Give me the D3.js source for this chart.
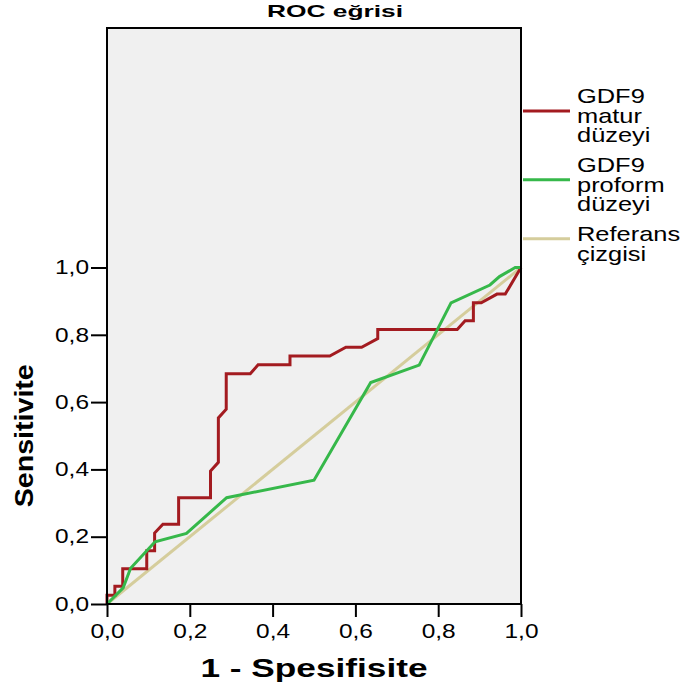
<!DOCTYPE html>
<html>
<head>
<meta charset="utf-8">
<script src="https://cdn.jsdelivr.net/npm/d3@7"></script>
<style>
  html, body { margin: 0; padding: 0; background: #ffffff; }
  svg { display: block; font-family: "Liberation Sans", Arial, sans-serif; }
</style>
</head>
<body>
<svg id="chart" width="683" height="696"></svg>
<script>
// ROC curve for GDF9 matur: 1 - specificity and sensitivity
const maturFpr = [0, 0, 0.019, 0.019, 0.038, 0.038, 0.096, 0.096, 0.115, 0.115, 0.135, 0.173, 0.173, 0.25, 0.25, 0.269, 0.269, 0.288, 0.288, 0.346, 0.365, 0.442, 0.442, 0.538, 0.577, 0.615, 0.654, 0.654, 0.846, 0.865, 0.885, 0.885, 0.904, 0.942, 0.962, 1];
const maturTpr = [0, 0.026, 0.026, 0.053, 0.053, 0.105, 0.105, 0.158, 0.158, 0.211, 0.237, 0.237, 0.316, 0.316, 0.395, 0.421, 0.553, 0.579, 0.684, 0.684, 0.711, 0.711, 0.737, 0.737, 0.763, 0.763, 0.789, 0.816, 0.816, 0.842, 0.842, 0.895, 0.895, 0.921, 0.921, 1];

// ROC curve for GDF9 proform
const proformFpr = [0, 0.039, 0.057, 0.116, 0.192, 0.289, 0.5, 0.637, 0.754, 0.831, 0.925, 0.948, 0.986, 1];
const proformTpr = [0, 0.048, 0.106, 0.185, 0.21, 0.316, 0.368, 0.658, 0.71, 0.895, 0.948, 0.973, 1, 1];

// Diagonal reference line
const referenceFpr = [0, 1];
const referenceTpr = [0, 1];

const tickValues = [0, 0.2, 0.4, 0.6, 0.8, 1.0];
const legendLabels = [["GDF9", "matur", "düzeyi"], ["GDF9", "proform", "düzeyi"], ["Referans", "çizgisi"]];
const seriesColors = ["#a31b20", "#36b84a", "#d5cd9c"];
const titleText = "ROC eğrisi";
const xLabelText = "1 - Spesifisite";
const yLabelText = "Sensitivite";

const svg = d3.select("#chart");

// plot frame bounds
const frameLeft = 107, frameRight = 521, frameTop = 28, frameBottom = 604;

const x = d3.scaleLinear().domain([0, 1]).range([frameLeft, frameRight]);
const y = d3.scaleLinear().domain([0, 1]).range([frameBottom, 267.5]);

const locale = d3.formatLocale({ decimal: ",", thousands: ".", grouping: [3], currency: ["", ""] });
const fmt = locale.format(".1f");

// widen text horizontally by factor k
function stretch(sel, k) {
  sel.each(function () {
    const w = this.getComputedTextLength();
    this.setAttribute("textLength", w * k);
    this.setAttribute("lengthAdjust", "spacingAndGlyphs");
  });
}
// widen text to a fixed run length
function stretchTo(sel, len) {
  sel.attr("textLength", len).attr("lengthAdjust", "spacingAndGlyphs");
}

// plot background
svg.append("rect")
  .attr("x", frameLeft).attr("y", frameTop)
  .attr("width", frameRight - frameLeft).attr("height", frameBottom - frameTop)
  .attr("fill", "#f0f0f0");

// curves
const line = d3.line().x(d => x(d[0])).y(d => y(d[1]));
const series = [
  { fpr: referenceFpr, tpr: referenceTpr, color: seriesColors[2] },
  { fpr: maturFpr, tpr: maturTpr, color: seriesColors[0] },
  { fpr: proformFpr, tpr: proformTpr, color: seriesColors[1] }
];
series.forEach(s => {
  const pts = s.fpr.map((v, i) => [v, s.tpr[i]]);
  svg.append("path")
    .datum(pts)
    .attr("d", line)
    .attr("fill", "none")
    .attr("stroke", s.color)
    .attr("stroke-width", 3)
    .attr("stroke-linejoin", "miter");
});

// axes
const yAxis = svg.append("g")
  .attr("transform", `translate(${frameLeft},0)`)
  .call(d3.axisLeft(y).tickValues(tickValues).tickFormat(fmt).tickSize(16).tickPadding(2));
const xAxis = svg.append("g")
  .attr("transform", `translate(0,${frameBottom})`)
  .call(d3.axisBottom(x).tickValues(tickValues).tickFormat(fmt).tickSize(13).tickPadding(7));

[xAxis, yAxis].forEach(g => {
  g.select(".domain").remove();
  g.selectAll(".tick line").attr("stroke", "#000").attr("stroke-width", 2);
  g.selectAll(".tick text")
    .attr("fill", "#000")
    .style("font-family", "'Liberation Sans', Arial, sans-serif")
    .style("font-size", "19.5px");
});
stretchTo(xAxis.selectAll(".tick text"), 34);
stretchTo(yAxis.selectAll(".tick text"), 34);

// frame on top of the curves
svg.append("rect")
  .attr("x", frameLeft).attr("y", frameTop)
  .attr("width", frameRight - frameLeft).attr("height", frameBottom - frameTop)
  .attr("fill", "none").attr("stroke", "#000").attr("stroke-width", 2);

// title
const title = svg.append("text")
  .attr("x", 335).attr("y", 17)
  .attr("text-anchor", "middle")
  .style("font-weight", "bold").style("font-size", "17px")
  .text(titleText);
stretchTo(title, 136);

// axis titles
const xTitle = svg.append("text")
  .attr("x", x(0.5)).attr("y", 677)
  .attr("text-anchor", "middle")
  .style("font-weight", "bold").style("font-size", "25.5px")
  .text(xLabelText);
stretchTo(xTitle, 227);

const yTitle = svg.append("text")
  .attr("transform", `translate(33,${y(0.5)}) rotate(-90)`)
  .attr("text-anchor", "middle")
  .style("font-weight", "bold").style("font-size", "26px")
  .text(yLabelText);
stretchTo(yTitle, 143);

// legend
const legend = svg.append("g");
const lineStep = 19.7, itemGap = 9.8, capHeight = 15;
let baseline = 103;
legendLabels.forEach((lines, i) => {
  const first = baseline;
  lines.forEach((t, j) => {
    const tx = legend.append("text")
      .attr("x", 577).attr("y", first + j * lineStep)
      .style("font-size", "21px")
      .text(t);
    stretch(tx, 1.21);
  });
  const last = first + (lines.length - 1) * lineStep;
  const mid = (first - capHeight + last) / 2 - 4.3;
  legend.append("line")
    .attr("x1", 523).attr("x2", 570)
    .attr("y1", mid).attr("y2", mid)
    .attr("stroke", seriesColors[i]).attr("stroke-width", 3);
  baseline = last + lineStep + itemGap;
});
</script>
</body>
</html>
